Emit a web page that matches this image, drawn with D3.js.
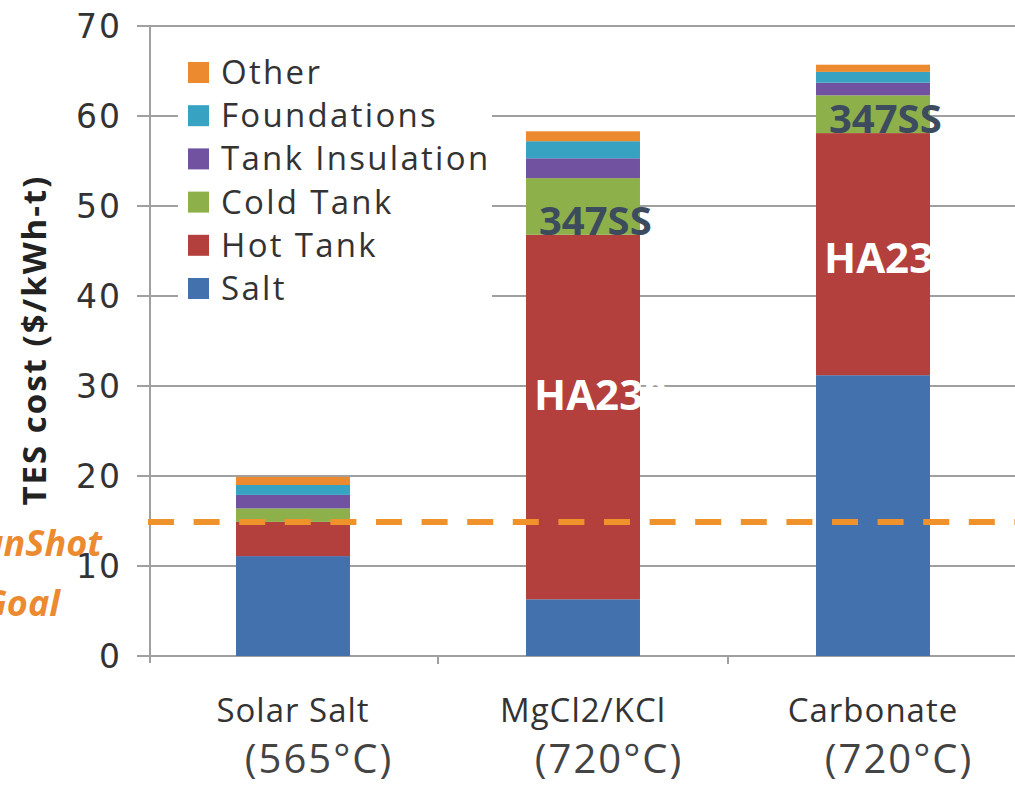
<!DOCTYPE html>
<html>
<head>
<meta charset="utf-8">
<script src="https://cdn.jsdelivr.net/npm/d3@7"></script>
<style>
  body { margin: 0; background: #fff; }
  svg { display: block; }
</style>
</head>
<body>
<div id="chart"></div>
<script>
// data
const categories = ["Solar Salt", "MgCl2/KCl", "Carbonate"];
const temps = ["(565°C)", "(720°C)", "(720°C)"];
const series = ["Salt", "Hot Tank", "Cold Tank", "Tank Insulation", "Foundations", "Other"];
const salt = [11.1, 6.3, 31.2];
const hotTank = [3.8, 40.5, 26.9];
const coldTank = [1.5, 6.3, 4.2];
const insulation = [1.5, 2.2, 1.4];
const foundations = [1.1, 1.9, 1.2];
const other = [0.9, 1.1, 0.8];
const yTicks = [0, 10, 20, 30, 40, 50, 60, 70];
const sunshotGoal = 14.9;
const alloyLabels = [
  {cat: "MgCl2/KCl", text: "347SS", at: 46.8},
  {cat: "Carbonate", text: "347SS", at: 58.1},
  {cat: "MgCl2/KCl", text: "HA230", at: 27.3},
  {cat: "Carbonate", text: "HA230", at: 42.6}
];

const colors = ["#4371ad", "#b3403d", "#8db04b", "#7052a0", "#37a2c2", "#ec8a30"];

let width = 1015, height = 787;
let svg = d3.select("#chart").append("svg")
  .attr("width", width)
  .attr("height", height);

//scales
let x = d3.scaleBand()
  .domain(categories)
  .range([148, 1018])
  .paddingInner(0.607)
  .paddingOuter(0.3035);

let y = d3.scaleLinear()
  .domain([0, 70])
  .range([656, 26]);

let color = d3.scaleOrdinal().domain(series).range(colors);

//rows for the stack
let rows = categories.map((c, i) => ({
  cat: c,
  "Salt": salt[i],
  "Hot Tank": hotTank[i],
  "Cold Tank": coldTank[i],
  "Tank Insulation": insulation[i],
  "Foundations": foundations[i],
  "Other": other[i]
}));
let stacked = d3.stack().keys(series)(rows);

const font = "'Open Sans', 'DejaVu Sans', sans-serif";

//gridlines
svg.append("g")
  .selectAll("line")
  .data(yTicks)
  .join("line")
  .attr("x1", 137)
  .attr("x2", width)
  .attr("y1", d => y(d))
  .attr("y2", d => y(d))
  .attr("stroke", "#a0a0a0")
  .attr("stroke-width", 2);

//vertical axis line
svg.append("line")
  .attr("x1", 150).attr("x2", 150)
  .attr("y1", y(70)).attr("y2", y(0) + 7)
  .attr("stroke", "#a0a0a0")
  .attr("stroke-width", 2);

//x tick marks at band boundaries
let step = x.step();
svg.append("g")
  .selectAll("line")
  .data(categories.slice(1))
  .join("line")
  .attr("x1", d => x(d) - (step - x.bandwidth()) / 2)
  .attr("x2", d => x(d) - (step - x.bandwidth()) / 2)
  .attr("y1", y(0))
  .attr("y2", y(0) + 8)
  .attr("stroke", "#a0a0a0")
  .attr("stroke-width", 2);

//y tick labels
svg.append("g")
  .selectAll("text")
  .data(yTicks)
  .join("text")
  .attr("x", 122)
  .attr("y", d => y(d) + 12)
  .attr("text-anchor", "end")
  .attr("font-family", "'DejaVu Sans', sans-serif")
  .attr("font-size", "33px")
  .attr("letter-spacing", "2px")
  .attr("fill", "#333")
  .text(d => d);

//legend background
svg.append("rect")
  .attr("x", 178).attr("y", 50)
  .attr("width", 314).attr("height", 258)
  .attr("fill", "#fff");

//bars
svg.append("g")
  .selectAll("g")
  .data(stacked)
  .join("g")
  .attr("fill", d => color(d.key))
  .selectAll("rect")
  .data(d => d)
  .join("rect")
  .attr("x", d => x(d.data.cat))
  .attr("width", x.bandwidth())
  .attr("y", d => y(d[1]))
  .attr("height", d => y(d[0]) - y(d[1]));

//sunshot goal line
svg.append("line")
  .attr("x1", 148)
  .attr("x2", width)
  .attr("y1", y(sunshotGoal))
  .attr("y2", y(sunshotGoal))
  .attr("stroke", "#f0922b")
  .attr("stroke-width", 6)
  .attr("stroke-dasharray", "26,19.6");

//alloy labels
svg.append("g")
  .selectAll("text")
  .data(alloyLabels)
  .join("text")
  .attr("x", d => x(d.cat) + (d.text === "347SS" ? 13 : 8))
  .attr("y", d => y(d.at))
  .attr("font-family", font)
  .attr("font-weight", "bold")
  .attr("font-size", d => d.text === "347SS" ? "40px" : "42px")
  .attr("fill", d => d.text === "347SS" ? "#3d4b5e" : "#ffffff")
  .text(d => d.text);

//legend
let legend = svg.append("g")
  .selectAll("g")
  .data(series.slice().reverse())
  .join("g")
  .attr("transform", (d, i) => `translate(188, ${72 + i * 43.2})`);

legend.append("rect")
  .attr("x", 0).attr("y", -10)
  .attr("width", 21).attr("height", 21)
  .attr("fill", d => color(d));

legend.append("text")
  .attr("x", 33)
  .attr("y", 12)
  .attr("font-family", font)
  .attr("font-size", "33px")
  .attr("letter-spacing", "2.3px")
  .attr("fill", "#333")
  .text(d => d);

//x labels
let xl = svg.append("g")
  .selectAll("g")
  .data(categories)
  .join("g")
  .attr("transform", d => `translate(${x(d) + x.bandwidth() / 2}, 0)`);

xl.append("text")
  .attr("y", 722)
  .attr("text-anchor", "middle")
  .attr("font-family", font)
  .attr("font-size", "33px")
  .attr("letter-spacing", "1px")
  .attr("fill", "#333")
  .text(d => d);

xl.append("text")
  .attr("x", 26)
  .attr("y", 773)
  .attr("text-anchor", "middle")
  .attr("font-family", font)
  .attr("font-size", "40px")
  .attr("letter-spacing", "2px")
  .attr("fill", "#444")
  .text((d, i) => temps[i]);

//y axis title
svg.append("text")
  .attr("transform", `translate(46, ${y(35.1)}) rotate(-90)`)
  .attr("text-anchor", "middle")
  .attr("font-family", font)
  .attr("font-weight", "bold")
  .attr("font-size", "33px")
  .attr("letter-spacing", "2px")
  .attr("fill", "#222")
  .text("TES cost ($/kWh-t)");

//sunshot goal text, cut at the left edge
let goal = svg.append("text")
  .attr("text-anchor", "end")
  .attr("font-family", font)
  .attr("font-weight", "bold")
  .attr("font-style", "italic")
  .attr("font-size", "36px")
  .attr("fill", "#ec8a30");
goal.append("tspan").attr("x", 102).attr("y", 556).text("SunShot");
goal.append("tspan").attr("x", 60).attr("y", 616).text("Goal");
</script>
</body>
</html>
